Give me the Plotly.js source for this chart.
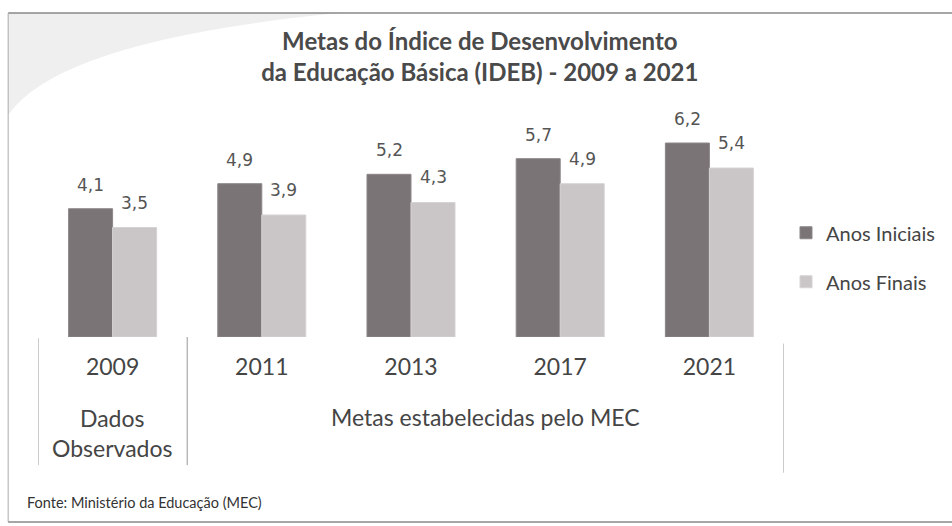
<!DOCTYPE html>
<html>
<head>
<meta charset="utf-8">
<script src="https://cdn.plot.ly/plotly-3.0.1.min.js"></script>
<style>html,body{margin:0;padding:0;background:#fff;}#chart{width:952px;height:526px;}</style>
</head>
<body>
<div id="chart"></div>
<script>
var years = ["2009", "2011", "2013", "2017", "2021"];
var anosIniciais = [4.1, 4.9, 5.2, 5.7, 6.2];
var anosFinais = [3.5, 3.9, 4.3, 4.9, 5.4];
var seriesNames = ["Anos Iniciais", "Anos Finais"];
var groupLabels = ["Dados<br>Observados", "Metas estabelecidas pelo MEC"];
var titleText = "Metas do Índice de Desenvolvimento<br>da Educação Básica (IDEB) - 2009 a 2021";
var sourceText = "Fonte: Ministério da Educação (MEC)";

var darkColor = "#7a7476";
var lightColor = "#cac6c7";
var textColor = "#454545";

function fmt(v) { return v.toFixed(1).replace(".", ","); }

var traces = [
  {type: "bar", x: years, y: anosIniciais, name: seriesNames[0], legendgroup: "a",
   marker: {color: darkColor, line: {color: "#8c8688", width: 1}}, hoverinfo: "none"},
  {type: "bar", x: years, y: anosFinais, name: seriesNames[1], legendgroup: "b",
   marker: {color: lightColor, line: {color: "#d6d3d4", width: 1}}, hoverinfo: "none"}
];

var labelFont = {family: "DejaVu Sans", size: 17, color: "#555"};
var annotations = [];
years.forEach(function (yr, i) {
  annotations.push({x: i, y: anosIniciais[i], xref: "x", yref: "y", text: fmt(anosIniciais[i]),
    showarrow: false, xshift: -22, yshift: 24, xanchor: "center", yanchor: "middle", font: labelFont});
  annotations.push({x: i, y: anosFinais[i], xref: "x", yref: "y", text: fmt(anosFinais[i]),
    showarrow: false, xshift: 22, yshift: 25, xanchor: "center", yanchor: "middle", font: labelFont});
});
annotations.push({x: 0, xref: "x", y: 0, yref: "paper", yshift: -96, yanchor: "middle",
  text: groupLabels[0], showarrow: false,
  font: {family: "Lato", size: 23, color: textColor}});
annotations.push({x: 2.5, xref: "x", y: 0, yref: "paper", yshift: -80, yanchor: "middle",
  text: groupLabels[1], showarrow: false,
  font: {family: "Lato", size: 23, color: textColor}});
annotations.push({x: (25 - 38) / 748, xref: "paper", y: 0, yref: "paper", xanchor: "left", yanchor: "middle",
  yshift: -165, text: sourceText, showarrow: false,
  font: {family: "Lato", size: 14.5, color: "#333"}});

var shapes = [
  // faint background watermark (top-left)
  {type: "path", xref: "paper", yref: "paper", layer: "below",
   path: "M -0.0401,1.479 L 0.4037,1.479 Q 0.0294,1.356 -0.0401,1.0137 Z",
   fillcolor: "#efefef", line: {width: 0}},
  {type: "line", xref: "x", yref: "paper", x0: -0.5, x1: -0.5, y0: -0.005, y1: -0.585, line: {color: "#999", width: 1}},
  {type: "line", xref: "x", yref: "paper", x0: 0.5, x1: 0.5, y0: 0.0, y1: -0.585, line: {color: "#999", width: 1}},
  {type: "line", xref: "x", yref: "paper", x0: 4.5, x1: 4.5, y0: -0.03, y1: -0.62, line: {color: "#999", width: 1}},
  // outer frame
  {type: "line", xref: "paper", yref: "paper", x0: -0.04, x1: 1.23, y0: 1.479, y1: 1.479, line: {color: "#888", width: 1.5}},
  {type: "line", xref: "paper", yref: "paper", x0: -0.04, x1: -0.04, y0: 1.479, y1: -0.845, line: {color: "#aaa", width: 1}},
  {type: "line", xref: "paper", yref: "paper", x0: -0.04, x1: 1.23, y0: -0.845, y1: -0.845, line: {color: "#888", width: 1.5}}
];

var layout = {
  width: 952, height: 526,
  margin: {l: 38, r: 166, t: 118, b: 189},
  paper_bgcolor: "#fff", plot_bgcolor: "rgba(0,0,0,0)",
  title: {text: titleText, x: 0.504, xref: "container", xanchor: "center",
    y: 1 - 50 / 526, yref: "container", yanchor: "top",
    font: {family: "Lato", size: 24, color: "#4a4a4a", weight: "bold"}},
  barmode: "group", bargap: 0.41, bargroupgap: 0,
  xaxis: {type: "category", range: [-0.5, 4.5], showgrid: false, zeroline: false, showline: false,
    ticks: "", ticklabelstandoff: 14,
    tickfont: {family: "Lato", size: 23, color: textColor}, fixedrange: true},
  yaxis: {range: [0, 7], showticklabels: false, ticks: "", showgrid: false, zeroline: false, showline: false, fixedrange: true},
  legend: {x: (788 - 38) / 748, xanchor: "left", y: 0.565, yanchor: "top",
    font: {family: "Lato", size: 20, color: textColor}, tracegroupgap: 20,
    bgcolor: "rgba(0,0,0,0)"},
  annotations: annotations,
  shapes: shapes,
  showlegend: true
};

Plotly.newPlot("chart", traces, layout, {displayModeBar: false, staticPlot: true});
</script>
</body>
</html>
